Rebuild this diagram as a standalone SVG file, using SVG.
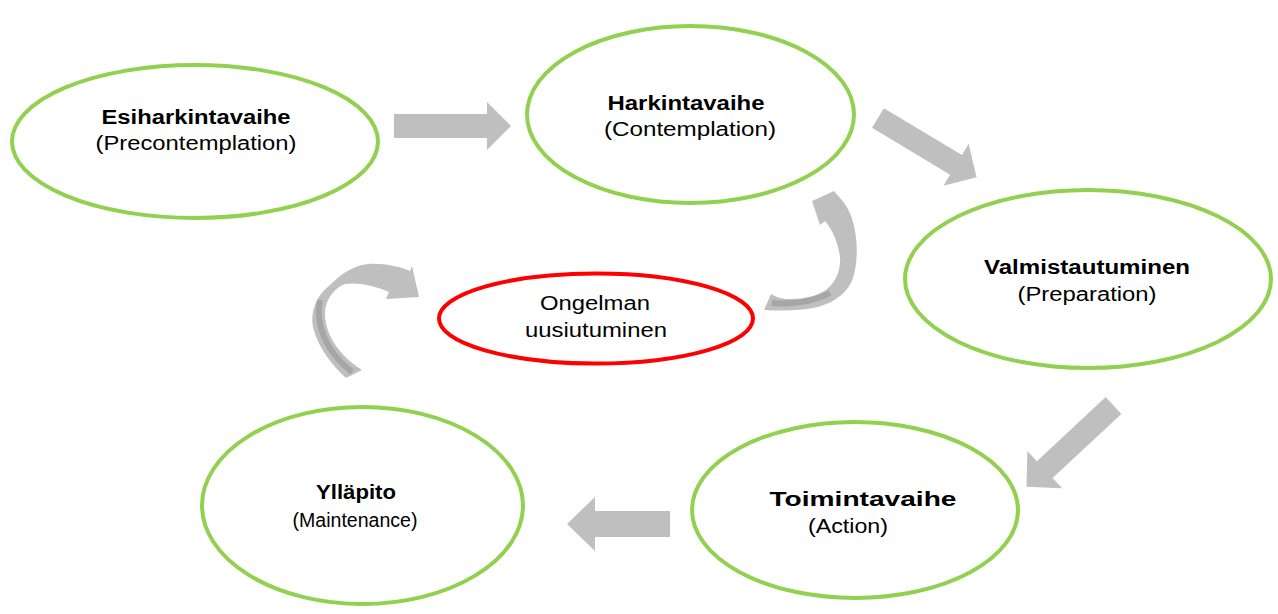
<svg xmlns="http://www.w3.org/2000/svg" width="1278" height="614" viewBox="0 0 1278 614">
<style>
.stage{fill:#FFFFFF;stroke:#92D050;stroke-width:4}
.relapse{fill:#FFFFFF;stroke:#FF0000;stroke-width:4}
.arrow{fill:#BFBFBF;stroke:none}
.dark{fill:none;stroke:#A6A6A6;stroke-width:6;stroke-linecap:butt}
text{font-family:"Liberation Sans",Arial,sans-serif;font-size:20px;fill:#000;text-anchor:middle}
.b{font-weight:bold}
</style>
<rect width="1278" height="614" fill="#FFFFFF"/>
<g id="connectors">
<polygon class="arrow" points="394,114 487,114 487,102 511,126 487,150 487,138 394,138"/>
<polygon class="arrow" transform="translate(878,118) rotate(31)" points="0,-11.5 91,-11.5 91,-24.5 115,0 91,24.5 91,11.5 0,11.5"/>
<polygon class="arrow" transform="translate(1113.5,405.5) rotate(137)" points="0,-11.5 94,-11.5 94,-25.5 119,0 94,25.5 94,11.5 0,11.5"/>
<polygon class="arrow" points="670,511 595,511 595,497 567,524 595,551 595,537 670,537"/>
<path class="arrow" d="M346,378 C333,366 318,348 313,327 C310,310 318,294 330,285 C342,273 355,265 368,264 C385,263 400,267 410,271 L412,266 L419,297 L386,299 L389,292 C375,286 360,282 345,284 C335,288 326,298 325,312 C324,332 338,355 362,370 Z"/>
<path class="dark" d="M320,300 C315,325 326,352 352,372"/>
<path class="arrow" d="M764,310 C780,311 800,311 818,307 C836,302 849,291 853,278 C858,262 858,240 853,222 C850,211 845,203 840,198 L834,191 L812,201 L820,225 L825,221 C832,229 838,242 840,257 C841,270 836,282 826,290 C817,296 805,299 790,299 C782,299 776,297 771,294 Z"/>
<path class="dark" d="M772,303 C790,305 812,302 830,293"/>
</g>
<g id="n-esiharkinta">
<ellipse class="stage" cx="195" cy="141.5" rx="183" ry="76.5"/>
<text class="b" x="196" y="124" textLength="189" lengthAdjust="spacingAndGlyphs">Esiharkintavaihe</text>
<text x="196" y="150" textLength="201" lengthAdjust="spacingAndGlyphs">(Precontemplation)</text>
</g>
<g id="n-harkinta">
<ellipse class="stage" cx="690.5" cy="114.5" rx="163.5" ry="88.5"/>
<text class="b" x="686" y="110" textLength="157" lengthAdjust="spacingAndGlyphs">Harkintavaihe</text>
<text x="690" y="136" textLength="172" lengthAdjust="spacingAndGlyphs">(Contemplation)</text>
</g>
<g id="n-valmistautuminen">
<ellipse class="stage" cx="1088" cy="279" rx="183" ry="89"/>
<text class="b" x="1087" y="274" textLength="206" lengthAdjust="spacingAndGlyphs">Valmistautuminen</text>
<text x="1087" y="301" textLength="139" lengthAdjust="spacingAndGlyphs">(Preparation)</text>
</g>
<g id="n-toiminta">
<ellipse class="stage" cx="855" cy="510" rx="163" ry="88"/>
<text class="b" x="863" y="506" textLength="187" lengthAdjust="spacingAndGlyphs">Toimintavaihe</text>
<text x="848" y="533" textLength="80" lengthAdjust="spacingAndGlyphs">(Action)</text>
</g>
<g id="n-yllapito">
<ellipse class="stage" cx="362.5" cy="505.5" rx="160.5" ry="98.5"/>
<text class="b" x="356" y="499" textLength="80" lengthAdjust="spacingAndGlyphs">Ylläpito</text>
<text x="355" y="527" textLength="125" lengthAdjust="spacingAndGlyphs">(Maintenance)</text>
</g>
<g id="n-ongelman">
<ellipse class="relapse" cx="596" cy="318.5" rx="157" ry="45"/>
<text x="595" y="310" textLength="110" lengthAdjust="spacingAndGlyphs">Ongelman</text>
<text x="596" y="337" textLength="142" lengthAdjust="spacingAndGlyphs">uusiutuminen</text>
</g>
</svg>
